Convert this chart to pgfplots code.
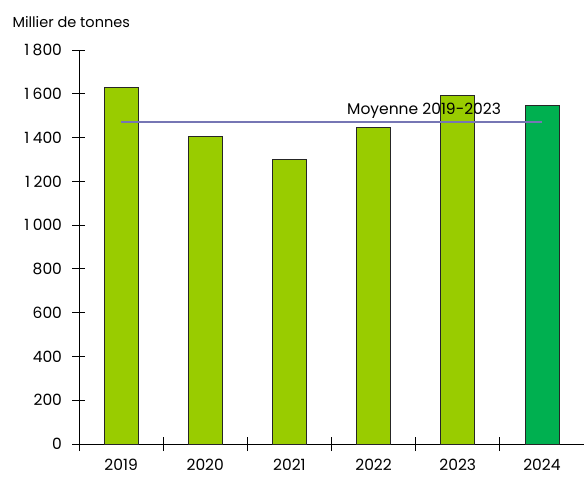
\documentclass[border=0pt]{standalone}
\usepackage{fontspec}
\setmainfont{Poppins}
\usepackage{pgfplots}
\pgfplotsset{compat=1.18}
\definecolor{lg}{RGB}{153,204,0}
\definecolor{dg}{RGB}{0,176,80}
\definecolor{avg}{RGB}{118,118,180}
\newcommand{\ff}{\fontsize{15.5bp}{18bp}\selectfont}
\newcommand{\fs}{\fontsize{14.5bp}{17bp}\selectfont}
\newcommand{\ts}{\hspace{0.22em}}
\begin{document}
\begin{tikzpicture}[font=\ff]
\begin{axis}[
  name=ax,
  scale only axis,
  width=505bp, height=394bp,
  xmin=-0.5, xmax=5.5,
  ymin=0, ymax=1800,
  axis lines=left,
  axis line style={-, black, line width=0.8bp},
  xtick={0,1,2,3,4,5},
  xticklabels={2019,2020,2021,2022,2023,2024},
  major x tick style={draw=none},
  minor xtick={-0.5,0.5,1.5,2.5,3.5,4.5,5.5},
  minor tick length=14bp,
  minor x tick style={black, line width=0.8bp},
  ytick={0,200,400,600,800,1000,1200,1400,1600,1800},
  yticklabels={0,200,400,600,800,1\ts000,1\ts200,1\ts400,1\ts600,1\ts800},
  major tick length=13bp,
  tick align=center,
  y tick style={black, line width=0.8bp},
  tick label style={font=\ff},
  xticklabel style={yshift=-5bp},
  yticklabel style={xshift=-7bp},
  clip=false,
  bar width=34bp,
]
\addplot[ybar, bar shift=0pt, fill=lg, draw=black!85, line width=0.8bp]
  coordinates {(0,1628) (1,1407) (2,1300) (3,1446) (4,1591)};
\addplot[ybar, bar shift=0pt, fill=dg, draw=black!85, line width=0.8bp]
  coordinates {(5,1545)};
\addplot[avg, line width=1.5bp, mark=none] coordinates {(0,1472) (5,1472)};
\node[anchor=base, font=\ff] at ([yshift=7bp]axis cs:3.6,1472) {Moyenne 2019-2023};
\end{axis}
\node[anchor=west, font=\fs] at ([xshift=-70bp,yshift=28bp]ax.north west) {Millier de tonnes};
\pgfresetboundingbox
\path ([xshift=-79bp,yshift=-34bp]ax.south west) rectangle ([yshift=50bp]ax.north east);
\end{tikzpicture}
\end{document}
